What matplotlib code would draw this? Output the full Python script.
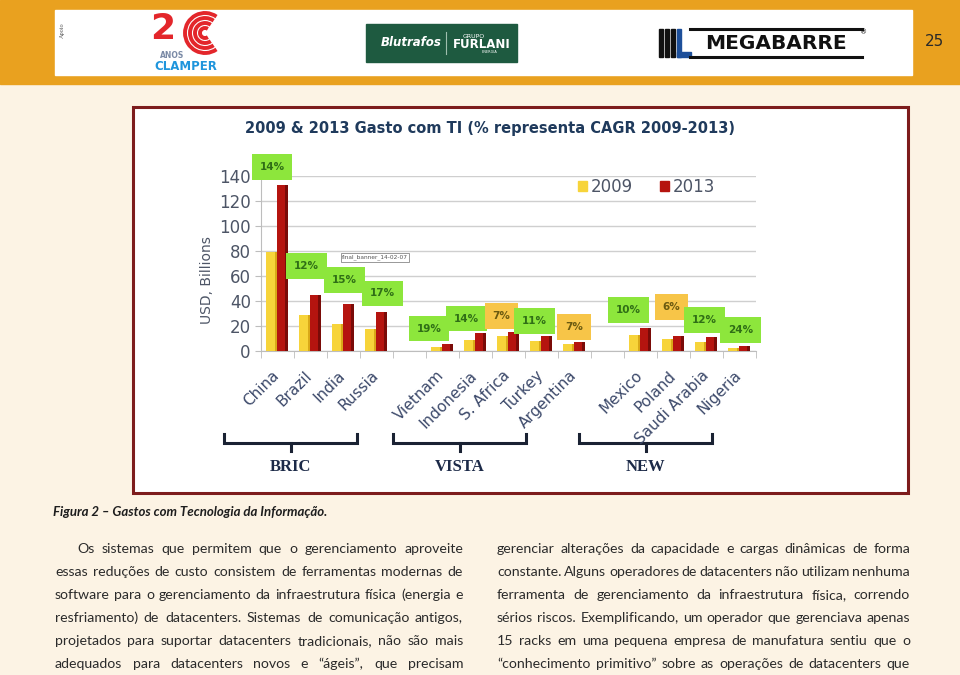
import numpy as np
import matplotlib
matplotlib.use("Agg")
import matplotlib.pyplot as plt
from matplotlib.patches import Rectangle, Arc, Patch

# ---- data ----
countries = ["China", "Brazil", "India", "Russia",
             "Vietnam", "Indonesia", "S. Africa", "Turkey", "Argentina",
             "Mexico", "Poland", "Saudi Arabia", "Nigeria"]
slots = [0, 1, 2, 3, 5, 6, 7, 8, 9, 11, 12, 13, 14]
spend_2009 = [79, 29, 22, 18, 3.5, 9, 12, 8, 5.5, 13, 10, 7.5, 2.5]
spend_2013 = [133, 45, 37.5, 31.5, 6, 14.5, 15.5, 12, 7.5, 18.5, 12, 11.5, 4]
cagr = ["14%", "12%", "15%", "17%", "19%", "14%", "7%", "11%", "7%",
        "10%", "6%", "12%", "24%"]
cagr_low = [False, False, False, False, False, False, True, False, True,
            False, True, False, False]
groups = ["BRIC", "VISTA", "NEW"]

left_col = [
    "Os sistemas que permitem que o gerenciamento aproveite",
    "essas reduções de custo consistem de ferramentas modernas de",
    "software para o gerenciamento da infraestrutura física (energia e",
    "resfriamento) de datacenters. Sistemas de comunicação antigos,",
    "projetados para suportar datacenters tradicionais, não são mais",
    "adequados para datacenters novos e “ágeis”, que precisam",
]
right_col = [
    "gerenciar alterações da capacidade e cargas dinâmicas de forma",
    "constante. Alguns operadores de datacenters não utilizam nenhuma",
    "ferramenta de gerenciamento da infraestrutura física, correndo",
    "sérios riscos. Exemplificando, um operador que gerenciava apenas",
    "15 racks em uma pequena empresa de manufatura sentiu que o",
    "“conhecimento primitivo” sobre as operações de datacenters que",
]

W, H = 960, 675
fig = plt.figure(figsize=(9.6, 6.75), dpi=100)
fig.patch.set_facecolor("#fcf3e4")

# page layer in pixel coordinates
bg = fig.add_axes([0, 0, 1, 1], zorder=0)
bg.set_xlim(0, W)
bg.set_ylim(H, 0)
bg.axis("off")

# header band
bg.add_patch(Rectangle((0, 0), W, 84, color="#e9a11f"))
bg.add_patch(Rectangle((55, 10), 857, 65, color="white"))
bg.text(62, 30, "Apoio", rotation=90, fontsize=4.5, color="#555",
        ha="center", va="center", family="Liberation Serif")
bg.text(935, 42, "25", fontsize=11, color="#2a2a2a", ha="center", va="center")

# clamper logo
bg.text(163, 29, "2", fontsize=26, fontweight="bold", color="#e3262b",
        ha="center", va="center")
for r in (5, 10, 15, 20):
    bg.add_patch(Arc((205, 33), 2 * r, 2 * r, theta1=55, theta2=305,
                     color="#e3262b", lw=2.8))
bg.text(172, 56, "ANOS", fontsize=5.5, fontweight="bold", color="#7a8aa6",
        ha="center", va="center")
bg.text(186, 66.5, "CLAMPER", fontsize=8.5, fontweight="bold", color="#1f95dc",
        ha="center", va="center")

# blutrafos logo
bg.add_patch(Rectangle((366, 24), 151, 38, color="#1e5a40"))
bg.text(411, 43, "Blutrafos", fontsize=8.5, fontweight="bold", style="italic",
        color="white", ha="center", va="center")
bg.plot([446, 446], [32, 54], color="#9fbfae", lw=0.8)
bg.text(463, 37, "GRUPO", fontsize=4.5, color="white", ha="left", va="center")
bg.text(453, 45, "FURLANI", fontsize=8.5, fontweight="bold", color="white",
        ha="left", va="center")
bg.text(490, 52, "ENERGIA", fontsize=2.5, color="white", ha="center", va="center")

# megabarre logo
for bx in (659, 665, 671):
    bg.add_patch(Rectangle((bx, 29), 4, 28, color="#111"))
bg.add_patch(Rectangle((677, 29), 4, 28, color="#1d4f9a"))
bg.add_patch(Rectangle((677, 52), 14, 5, color="#1d4f9a"))
bg.plot([690, 862], [29, 29], color="#111", lw=2.2)
bg.plot([690, 862], [57, 57], color="#111", lw=2.2)
bg.text(776, 43.5, "MEGABARRE", fontsize=14.5, fontweight="bold", color="#111",
        ha="center", va="center", family="DejaVu Sans")
bg.text(864, 32, "®", fontsize=5, color="#111", ha="center", va="center")

# chart frame
bg.add_patch(Rectangle((133, 107), 775, 386, facecolor="white",
                       edgecolor="#7d1c1c", lw=2.2))
bg.text(490, 128, "2009 & 2013 Gasto com TI (% representa CAGR 2009-2013)",
        fontsize=10.5, fontweight="bold", color="#1f3a5c", ha="center", va="center")
bg.text(207, 280, "USD, Billions", rotation=90, fontsize=10, color="#4d5566",
        ha="center", va="center")
bg.text(375, 257.5, "final_banner_14-02-07", fontsize=4.2, color="#555",
        ha="center", va="center",
        bbox=dict(boxstyle="square,pad=0.25", fc="white", ec="#888", lw=0.6))

# group brackets
bracket_x = [(224, 357), (393, 526), (579, 712)]
for (xa, xb), name in zip(bracket_x, groups):
    xm = (xa + xb) / 2
    bg.plot([xa, xa, xb, xb], [434, 443, 443, 434], color="#1a2233", lw=2.2,
            solid_joinstyle="miter")
    bg.plot([xm, xm], [443, 451], color="#1a2233", lw=2.2)
    bg.text(xm, 467, name, fontsize=12, fontweight="bold", color="#1c2a48",
            ha="center", va="center", family="Liberation Serif")

# caption
bg.text(53, 512, "Figura 2 – Gastos com Tecnologia da Informação.", fontsize=9.5,
        fontweight="bold", style="italic", color="#1e1e1e", ha="left",
        va="center", family=["Lato", "DejaVu Sans"])

# ---- the bar chart ----
ax = fig.add_axes([260.5 / W, 1 - 351 / H, 495 / W, 175 / H], zorder=1)
ax.set_facecolor("none")
x = np.array(slots, dtype=float)
bw = 0.32
side = 0.07
ax.bar(x - bw / 2, spend_2009, bw, color="#f7d43a", zorder=3)
ax.bar(x - side / 2, spend_2009, side, color="#d9a918", zorder=3)
ax.bar(x + bw / 2, spend_2013, bw, color="#b5140f", zorder=3)
ax.bar(x + bw - side / 2, spend_2013, side, color="#7a0b08", zorder=3)

ax.set_xlim(-0.5, 14.5)
ax.set_ylim(0, 140)
ax.set_yticks(range(0, 141, 20))
ax.yaxis.grid(True, color="#cfcfcf", lw=1)
ax.set_axisbelow(True)
for s in ("top", "right"):
    ax.spines[s].set_visible(False)
for s in ("left", "bottom"):
    ax.spines[s].set_color("#bdbdbd")
ax.tick_params(axis="y", colors="#bdbdbd", labelcolor="#4d5566", labelsize=12,
               length=4, pad=3)
ax.set_xticks(np.arange(-0.5, 15, 1), minor=True)
ax.set_xticks(x)
ax.set_xticklabels(countries, rotation=45, ha="right", va="center",
                   rotation_mode="anchor", fontsize=11, color="#3d4a6b")
ax.tick_params(axis="x", which="major", length=0, pad=16)
ax.tick_params(axis="x", which="minor", length=5, color="#bdbdbd")

# CAGR labels (box centre given in data units)
lab_dx = [-0.15, -0.1, 0.05, 0.2, -0.4, -0.25, -0.2, -0.2, 0.0, -0.35, -0.05, -0.05, 0.05]
lab_y = [147, 68, 57, 46, 18, 26, 28, 24, 19, 33, 35, 25, 17]
for xi, dx, yi, t, low in zip(x, lab_dx, lab_y, cagr, cagr_low):
    ax.text(xi + dx, yi, t, fontsize=7.5, fontweight="bold",
            color="#6b5a10" if low else "#2f6e16", ha="center", va="center",
            zorder=5, clip_on=False,
            bbox=dict(boxstyle="square,pad=0.75",
                      fc="#f7c548" if low else "#8de63c", ec="none"))

handles = [Patch(color="#f7d43a"), Patch(color="#b5140f")]
ax.legend(handles, ["2009", "2013"], loc="center", bbox_to_anchor=(0.78, 0.94),
          ncol=2, frameon=False, fontsize=12, handlelength=0.55,
          handleheight=0.55, handletextpad=0.25, columnspacing=1.6,
          labelcolor="#4d5566")

# ---- justified body text ----
renderer = fig.canvas.get_renderer()


def justify(line, x0, x1, y):
    words = line.split(" ")
    items = []
    for w in words:
        t = bg.text(0, y, w, fontsize=10.2, color="#2b2b2b", ha="left",
                    va="center", family=["Lato", "DejaVu Sans"])
        items.append(t)
    widths = [t.get_window_extent(renderer).width for t in items]
    gap = (x1 - x0 - sum(widths)) / max(len(items) - 1, 1)
    pos = x0
    for t, w in zip(items, widths):
        t.set_x(pos)
        pos += w + gap


rows = [549, 572, 595, 618, 641, 664]
for i, (ln, y) in enumerate(zip(left_col, rows)):
    justify(ln, 77 if i == 0 else 55, 463, y)
for ln, y in zip(right_col, rows):
    justify(ln, 497, 910, y)

fig.savefig("out.png", dpi=100, facecolor=fig.get_facecolor())
